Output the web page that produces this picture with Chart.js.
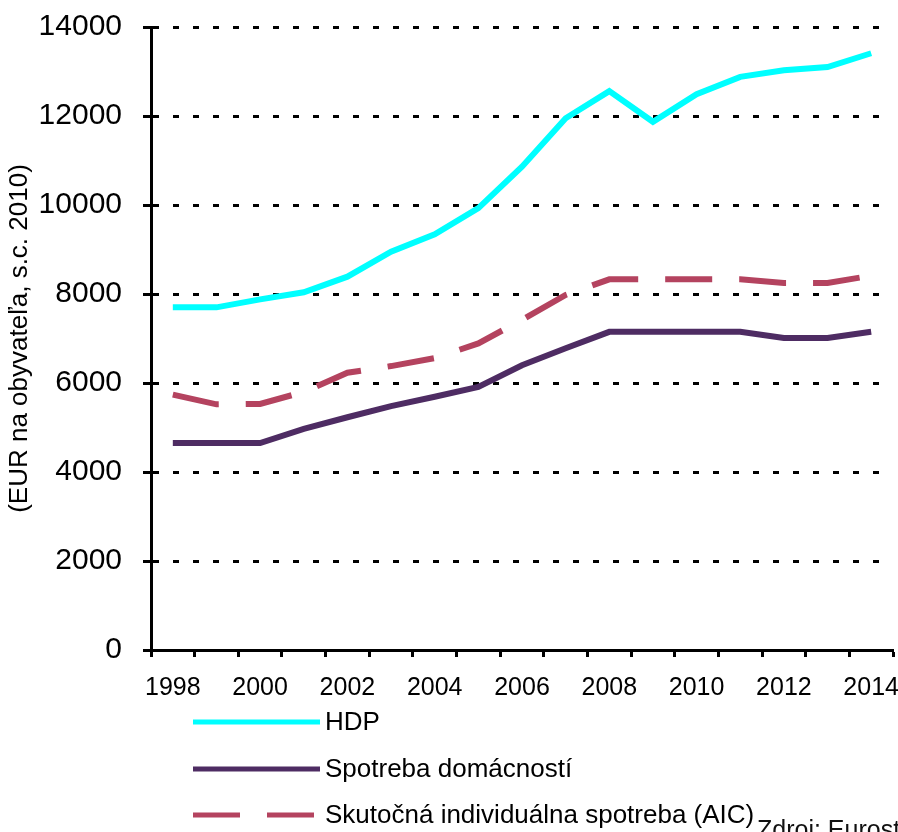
<!DOCTYPE html>
<html>
<head>
<meta charset="utf-8">
<script src="https://cdn.jsdelivr.net/npm/chart.js@4"></script>
<style>
  html, body { margin: 0; padding: 0; background: #fff; }
  #wrap { width: 898px; height: 832px; }
</style>
</head>
<body>
<div id="wrap"><canvas id="chart" width="898" height="832"></canvas></div>
<script>
const FONT = "'Liberation Sans', Arial, sans-serif"

const years = ['1998', '1999', '2000', '2001', '2002', '2003', '2004', '2005', '2006',
  '2007', '2008', '2009', '2010', '2011', '2012', '2013', '2014']
const hdp = [7700, 7700, 7880, 8040, 8390, 8950, 9340, 9930, 10860, 11950, 12560,
  11870, 12490, 12880, 13030, 13100, 13410]
const spotreba = [4650, 4650, 4650, 4970, 5230, 5480, 5690, 5910, 6400, 6780, 7150,
  7150, 7150, 7150, 7010, 7010, 7150]
const aic = [5740, 5520, 5530, 5800, 6230, 6380, 6560, 6890, 7420, 7980, 8330,
  8330, 8330, 8330, 8250, 8250, 8410]
const yTicks = [0, 2000, 4000, 6000, 8000, 10000, 12000, 14000]

// legend drawn under the x axis, one row per dataset
const legendRows = [722, 769, 815]
const legendPlugin = {
  id: 'stackedLegend',
  afterDraw(chart) {
    const ctx = chart.ctx
    chart.data.datasets.forEach((ds, i) => {
      const y = legendRows[i]
      ctx.save()
      ctx.strokeStyle = ds.borderColor
      ctx.lineWidth = 5
      ctx.setLineDash(ds.borderDash || [])
      ctx.beginPath()
      ctx.moveTo(193, y)
      ctx.lineTo(ds.borderDash ? 315 : 320, y)
      ctx.stroke()
      ctx.fillStyle = '#000'
      ctx.font = '26px ' + FONT
      ctx.textBaseline = 'middle'
      ctx.fillText(ds.label, 325, y + 1)
      ctx.restore()
    })
    ctx.save()
    ctx.fillStyle = '#111'
    ctx.font = '25px ' + FONT
    ctx.textBaseline = 'alphabetic'
    ctx.fillText('Zdroj: Eurostat', 757, 838)
    ctx.restore()
  },
}

new Chart(document.getElementById('chart'), {
  type: 'line',
  data: {
    labels: years,
    datasets: [
      { label: 'HDP', data: hdp, borderColor: '#00ffff', borderWidth: 6, pointRadius: 0, tension: 0 },
      { label: 'Spotreba domácností', data: spotreba, borderColor: '#4e2c63', borderWidth: 6, pointRadius: 0, tension: 0 },
      { label: 'Skutočná individuálna spotreba (AIC)', data: aic, borderColor: '#b4435f', borderWidth: 6,
        borderDash: [47, 27], pointRadius: 0, tension: 0 },
    ],
  },
  options: {
    responsive: false,
    animation: false,
    layout: { padding: { top: 27, right: 5, left: 0, bottom: 0 } },
    plugins: { legend: { display: false }, tooltip: { enabled: false } },
    scales: {
      x: {
        offset: true,
        grid: { offset: true, drawOnChartArea: false, drawTicks: true, tickLength: 7, tickWidth: 3, tickColor: '#000' },
        border: { display: true, color: '#000', width: 3 },
        ticks: {
          autoSkip: false, maxRotation: 0, padding: 16, color: '#000',
          font: { family: FONT, size: 25 },
          callback: (v, i) => (i % 2 === 0 ? years[i] : ''),
        },
        afterFit: (s) => {
          s.height = 182
          s.paddingLeft = 0
          s.paddingRight = 0
        },
      },
      y: {
        min: 0,
        max: 14000,
        afterBuildTicks: (s) => { s.ticks = yTicks.map((v) => ({ value: v })) },
        ticks: { padding: 21, color: '#000', font: { family: FONT, size: 30 }, callback: (v) => String(v) },
        grid: { color: '#000', lineWidth: 3, tickLength: 8, tickWidth: 3, tickColor: '#000', tickBorderDash: [] },
        border: { display: true, color: '#000', width: 3, dash: [6, 14] },
        title: {
          display: true, text: '(EUR na obyvateľa, s.c. 2010)', color: '#000',
          font: { family: FONT, size: 26 }, padding: { top: 4, bottom: 0 },
        },
        afterFit: (s) => {
          s.width = 151
          s.paddingTop = 0
          s.paddingBottom = 0
        },
      },
    },
  },
  plugins: [legendPlugin],
})
</script>
</body>
</html>
